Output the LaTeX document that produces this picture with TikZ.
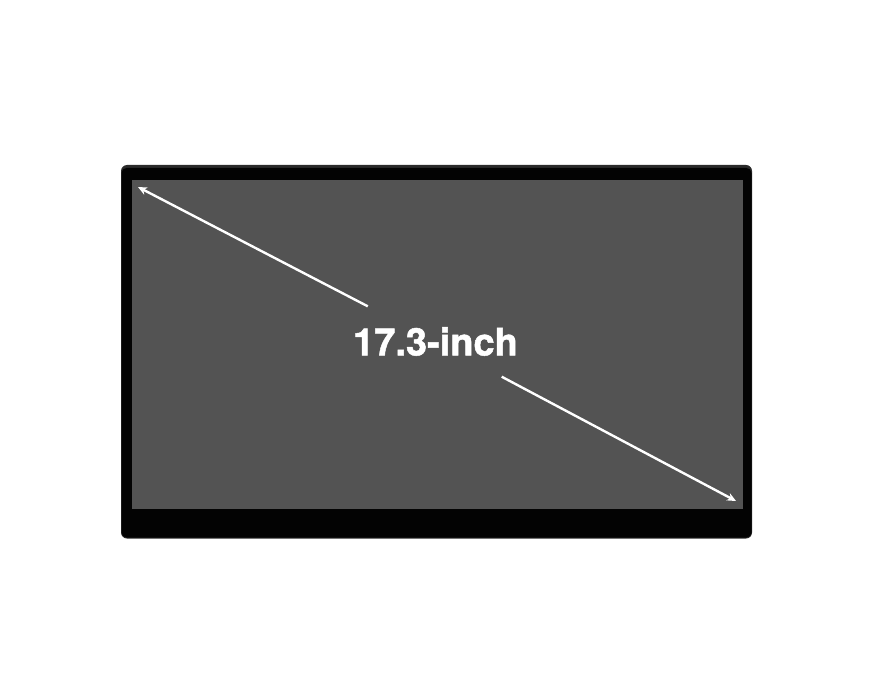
\documentclass[tikz,border=0pt]{standalone}
\usepackage{fontspec}
\setmainfont{TeX Gyre Heros}[BoldFeatures={FakeBold=1.3}]
\usetikzlibrary{arrows.meta}
\definecolor{screen}{HTML}{535353}
\definecolor{bezeledge}{HTML}{2A2A2A}
\definecolor{bezel}{HTML}{030303}
\tikzset{
  dimline/.style={white, line width=2.4pt},
  tip/.style={-{Stealth[length=9pt,width=8pt]}},
  label/.style={font=\fontsize{38}{40}\selectfont\bfseries, text=white, minimum height=70pt, inner xsep=3pt, inner ysep=0pt}
}
\begin{document}
\begin{tikzpicture}[x=1pt,y=-1pt]
\useasboundingbox (0,0) rectangle (874,700);
\fill[white] (0,0) rectangle (874,700);
% bezel
\fill[bezeledge, rounded corners=6pt] (121,165) rectangle (752,538.5);
\fill[bezel, rounded corners=5pt] (121.5,168) rectangle (751.5,537.5);
% screen
\fill[screen] (132,180) rectangle (742.5,509);
% diagonal
\coordinate (A) at (138,187);
\coordinate (B) at (736,501);
\node[label] (t) at (435.5,341.5) {17.3-inch};
\draw[dimline, tip] (t) -- (A);
\draw[dimline, tip] (t) -- (B);
\end{tikzpicture}
\end{document}
